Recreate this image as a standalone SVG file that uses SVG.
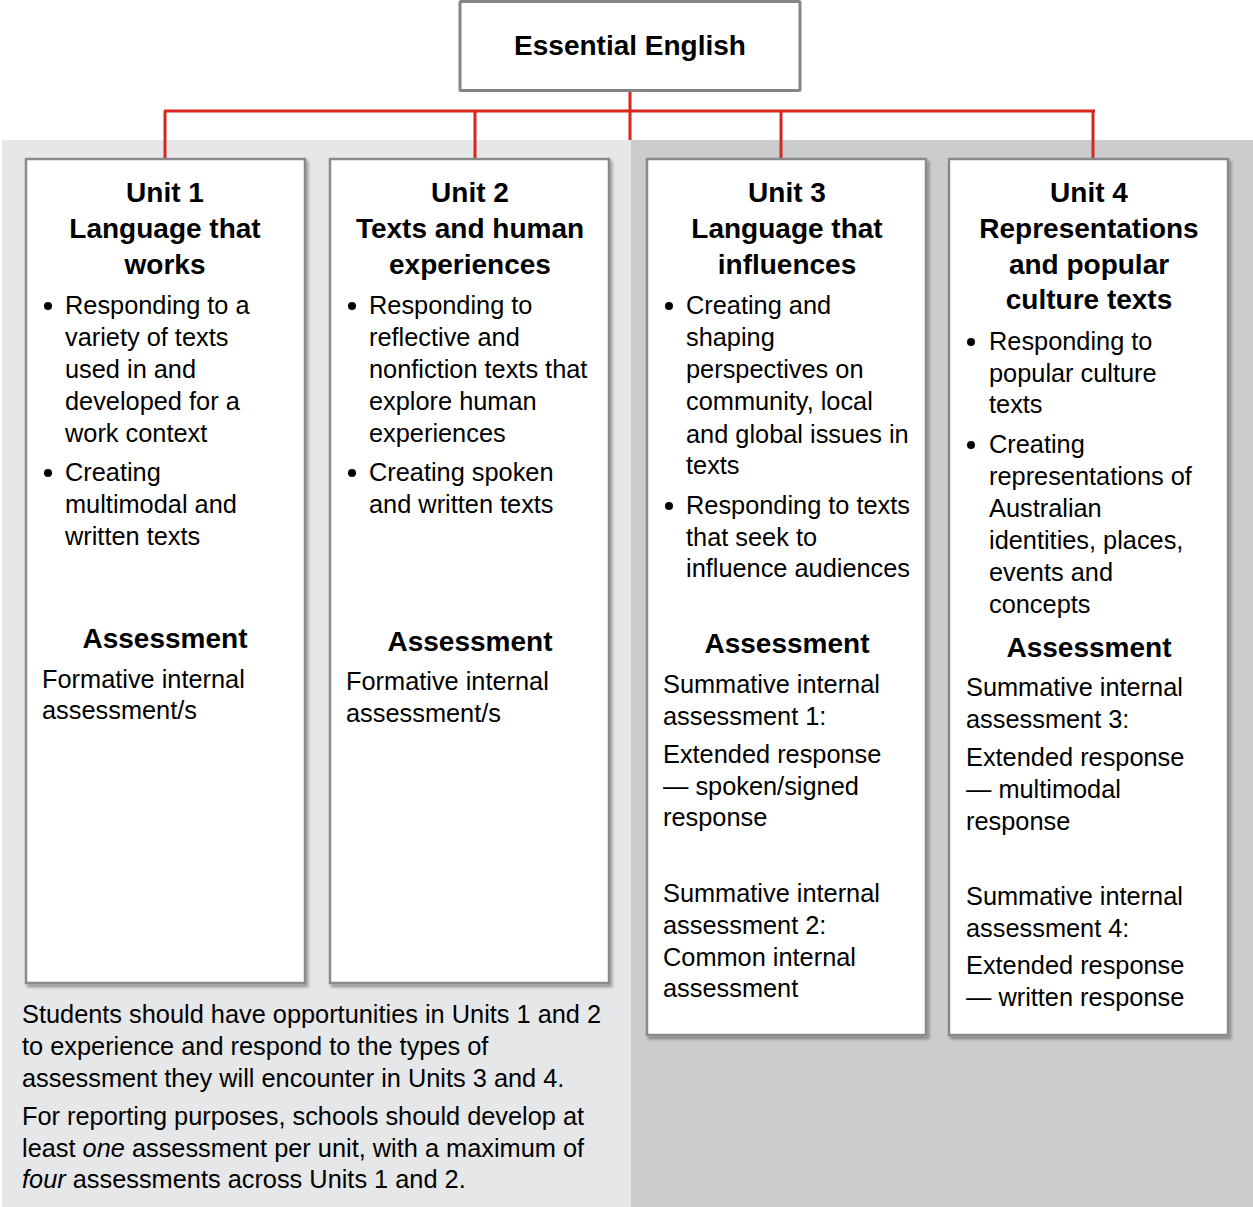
<svg xmlns="http://www.w3.org/2000/svg" width="1253" height="1207" viewBox="0 0 1253 1207">
<defs>
<filter id="sh" x="-5%" y="-5%" width="110%" height="110%">
<feDropShadow dx="2" dy="3" stdDeviation="1.5" flood-color="#000" flood-opacity="0.35"/>
</filter>
<style>
text{font-family:"Liberation Sans",Arial,sans-serif;fill:#000}
.t{font-size:28px;font-weight:bold;text-anchor:middle}
.b{font-size:25.35px}
.box{fill:#fff;stroke:#8a8a8a;stroke-width:2.5}
.red{stroke:#d7261e;stroke-width:3;fill:none}
</style>
</defs>
<rect x="0" y="0" width="1253" height="1207" fill="#fff"/>
<rect x="2" y="140" width="629" height="1067" fill="#e6e7e8"/>
<rect x="631" y="140" width="622" height="1067" fill="#cbcccd"/>

<g id="connectors">
<path class="red" d="M630 91V140M164 111H1095M165 111V158M475 111V158M781 111V158M1093 111V158"/>
</g>

<g id="root">
<rect x="460" y="1.5" width="340" height="89" fill="#fff" stroke="#858585" stroke-width="3" rx="1"/>
<text class="t" x="630" y="55">Essential English</text>
</g>

<g id="unit1">
<rect class="box" x="26" y="159" width="279" height="824" filter="url(#sh)"/>
<text class="t" x="165" y="202">Unit 1</text>
<text class="t" x="165" y="238">Language that</text>
<text class="t" x="165" y="274">works</text>
<circle cx="48" cy="306" r="4"/>
<text class="b" x="65" y="314">Responding to a</text>
<text class="b" x="65" y="346">variety of texts</text>
<text class="b" x="65" y="378">used in and</text>
<text class="b" x="65" y="410">developed for a</text>
<text class="b" x="65" y="442">work context</text>
<circle cx="48" cy="473" r="4"/>
<text class="b" x="65" y="481">Creating</text>
<text class="b" x="65" y="513">multimodal and</text>
<text class="b" x="65" y="545">written texts</text>
<text class="t" x="165" y="648">Assessment</text>
<text class="b" x="42" y="688">Formative internal</text>
<text class="b" x="42" y="719">assessment/s</text>
</g>

<g id="unit2">
<rect class="box" x="330" y="159" width="279" height="824" filter="url(#sh)"/>
<text class="t" x="470" y="202">Unit 2</text>
<text class="t" x="470" y="238">Texts and human</text>
<text class="t" x="470" y="274">experiences</text>
<circle cx="352" cy="306" r="4"/>
<text class="b" x="369" y="314">Responding to</text>
<text class="b" x="369" y="346">reflective and</text>
<text class="b" x="369" y="378">nonfiction texts that</text>
<text class="b" x="369" y="410">explore human</text>
<text class="b" x="369" y="442">experiences</text>
<circle cx="352" cy="473" r="4"/>
<text class="b" x="369" y="481">Creating spoken</text>
<text class="b" x="369" y="513">and written texts</text>
<text class="t" x="470" y="651">Assessment</text>
<text class="b" x="346" y="690">Formative internal</text>
<text class="b" x="346" y="722">assessment/s</text>
</g>

<g id="unit3">
<rect class="box" x="647" y="159" width="279" height="876" filter="url(#sh)"/>
<text class="t" x="787" y="202">Unit 3</text>
<text class="t" x="787" y="238">Language that</text>
<text class="t" x="787" y="274">influences</text>
<circle cx="669" cy="306" r="4"/>
<text class="b" x="686" y="314">Creating and</text>
<text class="b" x="686" y="346">shaping</text>
<text class="b" x="686" y="378">perspectives on</text>
<text class="b" x="686" y="410">community, local</text>
<text class="b" x="686" y="443">and global issues in</text>
<text class="b" x="686" y="474">texts</text>
<circle cx="669" cy="506" r="4"/>
<text class="b" x="686" y="514">Responding to texts</text>
<text class="b" x="686" y="546">that seek to</text>
<text class="b" x="686" y="577">influence audiences</text>
<text class="t" x="787" y="653">Assessment</text>
<text class="b" x="663" y="693">Summative internal</text>
<text class="b" x="663" y="725">assessment 1:</text>
<text class="b" x="663" y="763">Extended response</text>
<text class="b" x="663" y="795">— spoken/signed</text>
<text class="b" x="663" y="826">response</text>
<text class="b" x="663" y="902">Summative internal</text>
<text class="b" x="663" y="934">assessment 2:</text>
<text class="b" x="663" y="966">Common internal</text>
<text class="b" x="663" y="997">assessment</text>
</g>

<g id="unit4">
<rect class="box" x="949" y="159" width="279" height="876" filter="url(#sh)"/>
<text class="t" x="1089" y="202">Unit 4</text>
<text class="t" x="1089" y="238">Representations</text>
<text class="t" x="1089" y="274">and popular</text>
<text class="t" x="1089" y="309">culture texts</text>
<circle cx="971" cy="342" r="4"/>
<text class="b" x="989" y="350">Responding to</text>
<text class="b" x="989" y="382">popular culture</text>
<text class="b" x="989" y="413">texts</text>
<circle cx="971" cy="445" r="4"/>
<text class="b" x="989" y="453">Creating</text>
<text class="b" x="989" y="485">representations of</text>
<text class="b" x="989" y="517">Australian</text>
<text class="b" x="989" y="549">identities, places,</text>
<text class="b" x="989" y="581">events and</text>
<text class="b" x="989" y="613">concepts</text>
<text class="t" x="1089" y="657">Assessment</text>
<text class="b" x="966" y="696">Summative internal</text>
<text class="b" x="966" y="728">assessment 3:</text>
<text class="b" x="966" y="766">Extended response</text>
<text class="b" x="966" y="798">— multimodal</text>
<text class="b" x="966" y="830">response</text>
<text class="b" x="966" y="905">Summative internal</text>
<text class="b" x="966" y="937">assessment 4:</text>
<text class="b" x="966" y="974">Extended response</text>
<text class="b" x="966" y="1006">— written response</text>
</g>

<g id="note">
<text class="b" x="22" y="1023">Students should have opportunities in Units 1 and 2</text>
<text class="b" x="22" y="1055">to experience and respond to the types of</text>
<text class="b" x="22" y="1087">assessment they will encounter in Units 3 and 4.</text>
<text class="b" x="22" y="1125">For reporting purposes, schools should develop at</text>
<text class="b" x="22" y="1157">least <tspan font-style="italic">one</tspan> assessment per unit, with a maximum of</text>
<text class="b" x="22" y="1188"><tspan font-style="italic">four</tspan> assessments across Units 1 and 2.</text>
</g>
</svg>
